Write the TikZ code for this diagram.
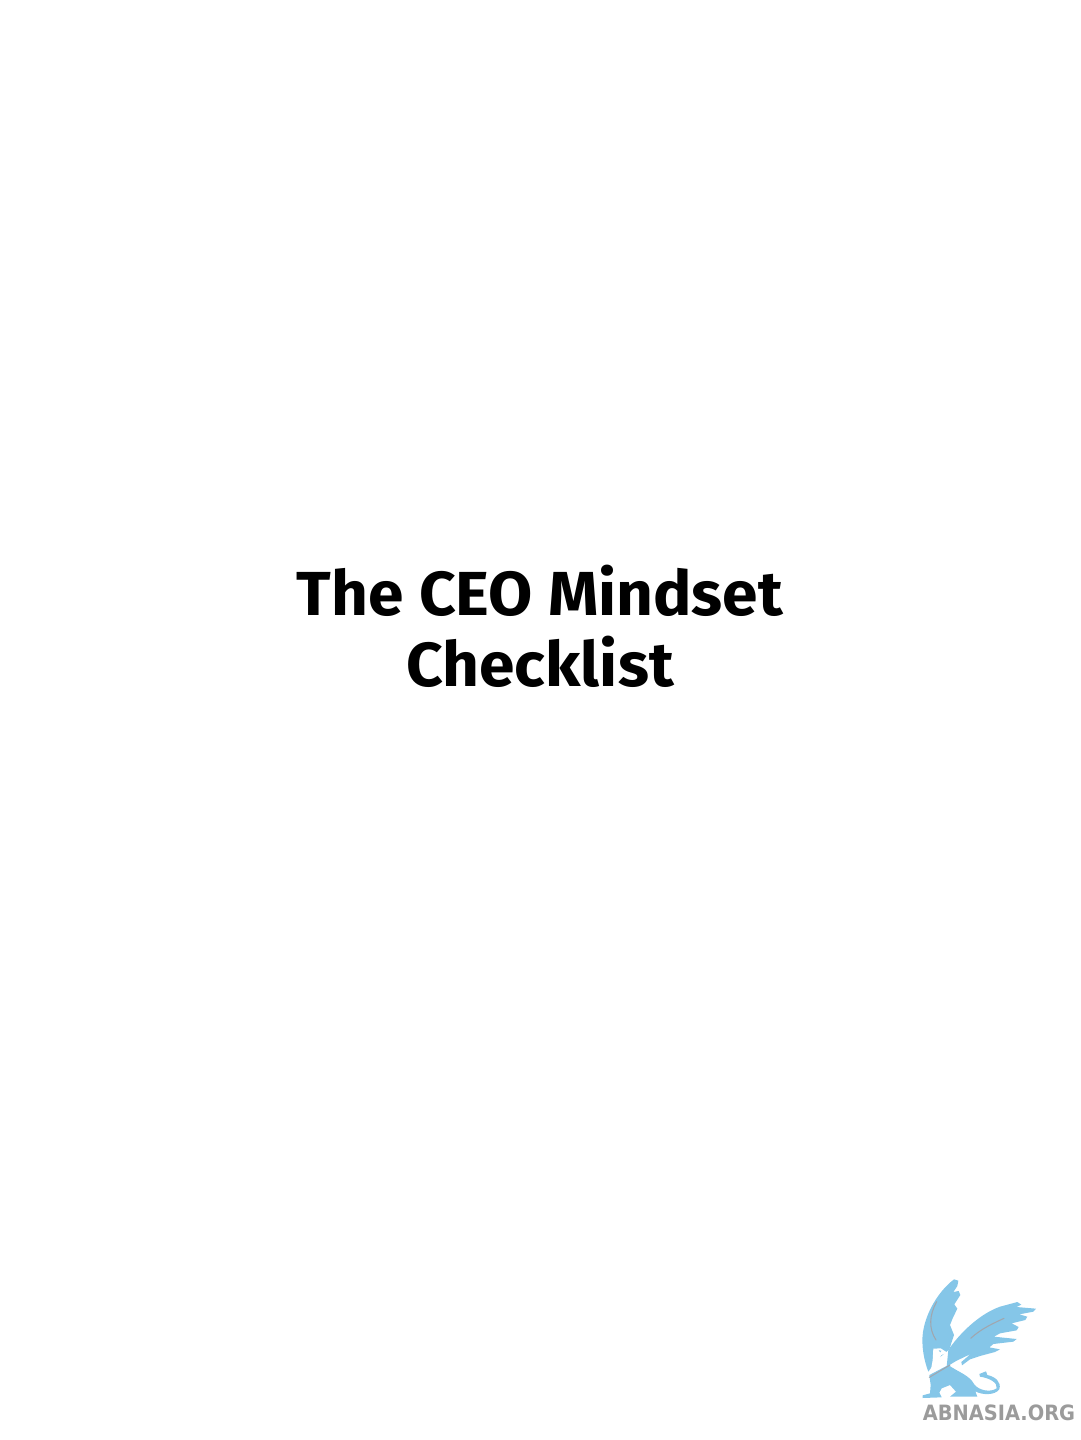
\documentclass[tikz,border=0pt]{standalone}
\usepackage{fontspec}
\setmainfont{Fira Sans}
\newfontfamily\logofont{DejaVu Sans}
\definecolor{griffin}{HTML}{85C6E8}
\definecolor{quill}{HTML}{A0A6AE}
\definecolor{wordmark}{HTML}{9B9B9B}

\begin{document}
\begin{tikzpicture}[x=0.02cm, y=-0.02cm,
        title/.style={font=\bfseries\fontsize{35.4}{40.2}\selectfont, align=center, text=black, xscale=1.03, transform shape},
        brand/.style={font=\logofont\bfseries\fontsize{12}{12}\selectfont, text=wordmark, inner sep=0pt, xscale=0.92, transform shape},
        griffinpart/.style={fill=griffin, draw=none},
        quillline/.style={draw=quill, line width=0.6pt, line cap=round}]

    \useasboundingbox (0,0) rectangle (1080,1440);

    \node[title] (heading) at (540,626) {The CEO Mindset\\Checklist};

    \begin{scope}[shift={(900,1260)}, x=0.00667cm, y=-0.00667cm]
        % left wing
        \fill[griffinpart] (85,335) .. controls (68,290) and (62,240) .. (72,200)
            .. controls (85,145) and (120,90) .. (162,58) -- (175,62) -- (172,78) -- (160,96)
            -- (176,93) -- (181,105) -- (163,133) -- (172,146) -- (158,175) -- (150,195)
            -- (162,225) -- (148,268) -- (110,300) -- cycle;
        % right wing
        \fill[griffinpart] (145,270) .. controls (170,232) and (230,165) .. (300,140)
            -- (352,126) -- (364,134) -- (350,141) -- (408,146) -- (400,155) -- (358,163)
            -- (382,170) -- (376,180) -- (335,190) -- (356,201) -- (350,211) -- (300,220)
            -- (282,230) -- (350,237) -- (340,245) -- (280,252) -- (268,262) -- (300,268)
            -- (285,276) -- (240,288) -- (210,298) -- (186,316) -- (184,306) -- (212,282)
            -- (170,302) -- (140,320) -- cycle;
        % body with head
        \fill[griffinpart] (88,345) -- (145,315) .. controls (172,335) and (208,345) .. (222,372)
            .. controls (236,392) and (272,398) .. (290,385)
            .. controls (294,368) and (268,354) .. (240,350) -- (238,342) -- (258,334) -- (262,345)
            .. controls (285,350) and (305,365) .. (298,388)
            .. controls (285,406) and (248,406) .. (226,394) -- (232,410) -- (150,410) -- (168,395)
            -- (150,375) -- (125,385) -- (118,398) -- (125,412) -- (68,414) -- (68,406)
            -- (90,400) -- (92,375) -- cycle;
        % white head and neck
        \fill[white] (100,266) -- (122,265) -- (142,278) -- (124,285) -- (114,305) -- (125,318)
            -- (92,335) -- (98,300) -- cycle;
        \fill[griffinpart] (116,271) -- (124,272) -- (121,277) -- cycle;
        % feather shafts
        \draw[quillline] (110,125) .. controls (88,165) and (85,205) .. (108,240);
        \draw[quillline] (212,235) .. controls (245,205) and (280,190) .. (312,175);
        \draw[quillline] (88,352) -- (150,315);
    \end{scope}

    \node[brand] (logoname) at (999,1413) {ABNASIA.ORG};
\end{tikzpicture}
\end{document}
